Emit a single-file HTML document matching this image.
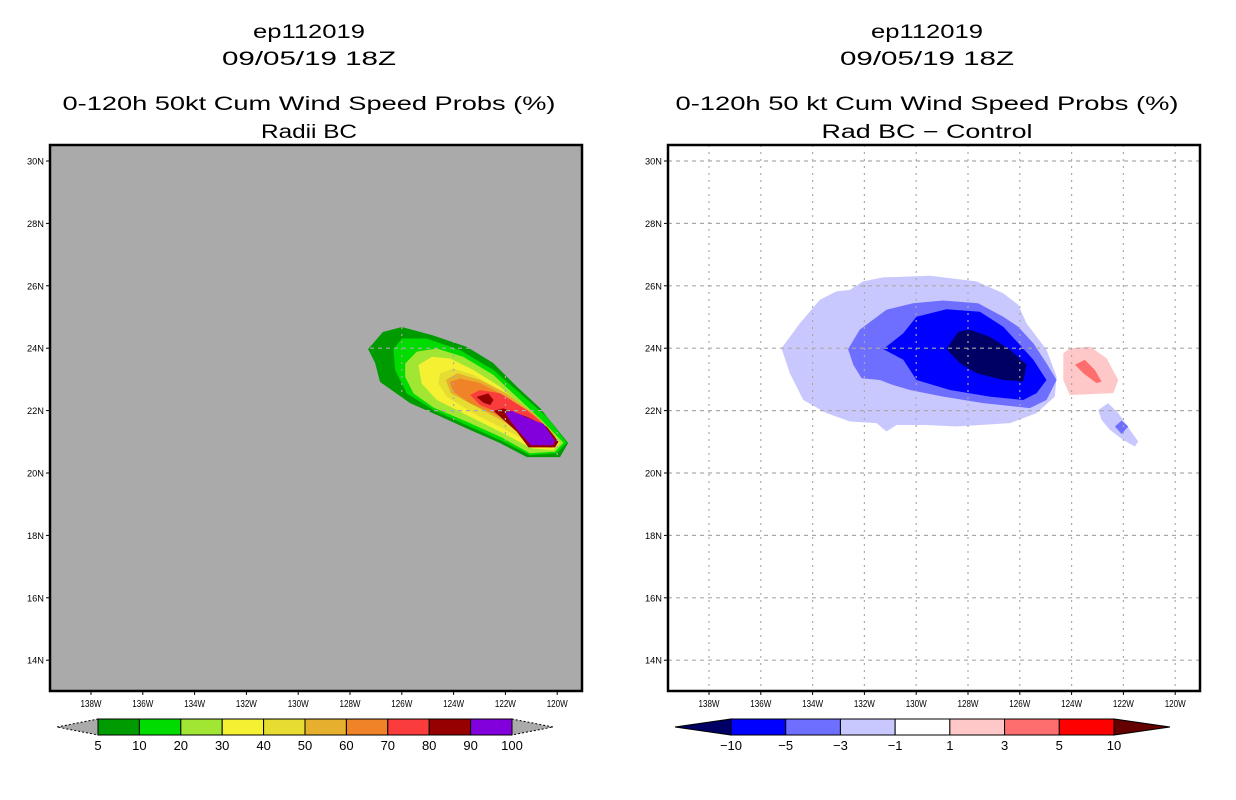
<!DOCTYPE html>
<html><head><meta charset="utf-8"><style>
html,body{margin:0;padding:0;background:#fff;}
svg{display:block;font-family:"Liberation Sans",sans-serif;}
</style></head><body>
<svg id="root" width="1236" height="800" viewBox="0 0 1236 800" xmlns="http://www.w3.org/2000/svg"></svg>
<script>
// ---- data ----
const lonTicks=[138,136,134,132,130,128,126,124,122,120];
const latTicks=[30,28,26,24,22,20,18,16,14];
// Left panel: cumulative probability contours (lonW, lat)
const probLevels=[5,10,20,30,40,50,60,70,80,90,100];
const probColors=['#009b00','#00dc00','#a0e632','#f5f032','#e6dc32','#e6af2d','#f08228','#fa3c3c','#960000','#8200dc'];
const prob5=[[127.3,23.97],[126.73,24.52],[126.0,24.68],[124.83,24.42],[123.48,24.04],[122.48,23.53],[121.55,22.76],[120.66,22.08],[119.58,20.96],[119.89,20.51],[121.17,20.51],[122.21,20.96],[123.37,21.38],[124.64,21.86],[125.68,22.24],[126.84,22.92],[127.03,23.53]];
const prob10=[[126.32,23.96],[126.0,24.31],[125.04,24.31],[123.75,23.94],[122.46,23.30],[121.43,22.55],[120.40,21.80],[119.63,20.97],[120.02,20.63],[121.05,20.57],[122.20,21.05],[123.49,21.53],[124.78,22.02],[125.81,22.55],[126.26,23.30]];
const prob20=[[125.87,23.51],[125.42,23.89],[124.65,23.99],[123.62,23.72],[122.46,23.14],[121.56,22.44],[120.60,21.69],[119.76,20.97],[120.08,20.68],[121.05,20.63],[122.20,21.16],[123.49,21.64],[124.78,22.10],[125.55,22.55],[125.87,23.08]];
const prob30=[[125.36,23.46],[124.84,23.72],[124.14,23.67],[123.23,23.30],[122.20,22.76],[121.30,22.12],[120.40,21.48],[119.89,20.97],[120.15,20.73],[120.98,20.79],[122.08,21.27],[123.36,21.80],[124.65,22.34],[125.23,22.87]];
const prob40=[[124.52,23.19],[124.01,23.35],[123.23,23.14],[122.20,22.66],[121.17,22.02],[120.27,21.37],[119.95,20.97],[120.21,20.79],[120.92,20.89],[121.95,21.37],[123.23,21.91],[124.26,22.44],[124.59,22.87]];
const prob50=[[124.3,22.98],[123.85,23.2],[122.98,22.98],[121.95,22.55],[120.92,21.91],[120.15,21.27],[120.02,20.95],[120.34,20.84],[120.92,21.00],[121.95,21.59],[123.11,22.12],[124.1,22.55]];
const prob60=[[124.14,22.92],[123.75,23.03],[122.98,22.88],[121.95,22.44],[120.79,21.80],[120.08,21.16],[120.08,20.93],[120.40,20.86],[121.05,21.11],[122.20,21.80],[123.36,22.23],[124.01,22.60]];
const prob70=[[123.36,22.50],[122.98,22.66],[122.20,22.55],[121.17,22.02],[120.40,21.48],[120.08,21.05],[120.47,20.86],[121.11,21.11],[122.33,21.96],[122.98,22.18]];
const prob80a=[[123.11,22.44],[122.66,22.55],[122.46,22.34],[122.59,22.18],[122.85,22.25]];
const prob80b=[[122.46,21.99],[122.08,22.07],[121.17,21.80],[120.40,21.48],[119.95,21.00],[120.08,20.82],[121.11,20.82],[121.56,21.32]];
const prob90=[[122.01,21.93],[121.75,21.99],[120.92,21.69],[120.53,21.57],[120.08,21.03],[120.17,20.89],[121.02,20.89],[121.50,21.35],[121.88,21.75]];
// Right panel: difference contours
const diffLevels=[-10,-5,-3,-1,1,3,5,10];
const diffColors=['#000064','#0000ff','#6e6eff','#c8c8ff','#ffffff','#ffc8c8','#ff6e6e','#ff0000','#640000'];
const diffNeg1=[[135.20,24.00],[134.49,24.80],[133.72,25.55],[133.08,25.82],[132.56,25.87],[132.05,26.14],[131.27,26.27],[129.47,26.32],[127.67,26.14],[126.64,25.76],[126.06,25.39],[125.74,24.80],[124.97,23.95],[124.58,23.09],[124.65,22.45],[125.35,21.92],[126.38,21.60],[128.44,21.49],[129.60,21.54],[130.76,21.54],[131.15,21.33],[131.53,21.60],[132.56,21.65],[133.46,21.92],[134.36,22.34],[134.88,23.20]];
const diffNeg3=[[132.63,23.97],[132.18,24.59],[131.15,25.23],[130.12,25.44],[128.96,25.53],[127.61,25.44],[126.64,25.01],[126.06,24.69],[125.48,24.16],[124.97,23.52],[124.58,22.98],[124.97,22.34],[125.61,22.08],[127.41,22.24],[128.96,22.45],[130.24,22.66],[130.89,22.82],[131.40,22.98],[132.11,23.04],[132.43,23.47]];
const diffNeg5=[[131.27,23.97],[130.50,24.48],[129.99,25.01],[128.83,25.25],[127.54,25.17],[126.64,24.69],[126.00,24.11],[125.48,23.63],[124.97,22.98],[125.35,22.56],[125.87,22.34],[127.16,22.45],[128.70,22.66],[129.99,22.98],[130.24,23.30],[130.50,23.63]];
const diffNeg10=[[128.83,23.97],[128.38,24.53],[127.93,24.59],[127.16,24.37],[126.38,23.95],[125.74,23.47],[125.87,22.93],[126.64,22.98],[127.67,23.20],[128.31,23.52]];
const diffPos1=[[124.32,23.84],[124.07,24.00],[123.29,24.05],[122.65,23.68],[122.20,22.98],[122.39,22.56],[124.07,22.50],[124.32,22.98]];
const diffPos3=[[123.87,23.47],[123.49,23.63],[123.10,23.30],[122.84,22.93],[123.04,22.88],[123.55,23.20]];
const diffNeg1b=[[122.97,22.02],[122.59,22.24],[122.20,21.92],[121.75,21.38],[121.43,21.01],[121.56,20.85],[122.01,21.06],[122.52,21.38],[122.84,21.70]];
const diffNeg3b=[[122.33,21.49],[122.07,21.68],[121.81,21.49],[122.07,21.25]];

// ---- rendering ----
const NS='http://www.w3.org/2000/svg';
const root=document.getElementById('root');
function mk(tag,attrs,parent){const e=document.createElementNS(NS,tag);for(const k in attrs)e.setAttribute(k,attrs[k]);(parent||root).appendChild(e);return e;}
function txt(x,y,s,size,anchor,len,parent){const t=mk('text',{x:x,y:y,'font-size':size,'text-anchor':anchor||'middle',fill:'#000'},parent);if(len){t.setAttribute('textLength',len);t.setAttribute('lengthAdjust','spacingAndGlyphs');}t.textContent=s;return t;}
function makePanel(x0,bg){
  const left=x0, top=145, w=532, h=546;
  const xs=lon=>x0+41+(138-lon)*25.9;
  const ys=lat=>161+(30-lat)*31.2;
  return {left,top,w,h,xs,ys,bg};
}
const P1=makePanel(50,'#aaaaaa');
const P2=makePanel(668,'#ffffff');

function drawPanel(P,name,polys,gridColor){
  const g=mk('g',{});
  
  
  const bg=mk('rect',{x:P.left,y:P.top,width:P.w,height:P.h,fill:P.bg},g);
  
  
  const clip=mk('clipPath',{id:name+'-clip'},g);
  mk('rect',{x:P.left,y:P.top,width:P.w,height:P.h},clip);
  const cg=mk('g',{'clip-path':'url(#'+name+'-clip)'},g);
  polys.forEach(([pts,col,nm])=>{
    const p=mk('polygon',{points:pts.map(d=>P.xs(d[0]).toFixed(1)+','+P.ys(d[1]).toFixed(1)).join(' '),fill:col},cg);
    
    
  });
  lonTicks.forEach(l=>{const ln=mk('line',{x1:P.xs(l),x2:P.xs(l),y1:P.top,y2:P.top+P.h,stroke:gridColor,'stroke-width':1.2,'stroke-dasharray':'2 5'},cg);
    });
  latTicks.forEach(l=>{const ln=mk('line',{x1:P.left,x2:P.left+P.w,y1:P.ys(l),y2:P.ys(l),stroke:gridColor,'stroke-width':1.2,'stroke-dasharray':'4 4'},cg);
    });
  const fr=mk('rect',{x:P.left,y:P.top,width:P.w,height:P.h,fill:'none',stroke:'#000','stroke-width':2.5},g);
  
  
  latTicks.forEach(l=>{
    mk('line',{x1:P.left-4,x2:P.left,y1:P.ys(l),y2:P.ys(l),stroke:'#000','stroke-width':1},g);
    const t=txt(P.left-6,P.ys(l)+3.5,l+'N',9.5,'end',17,g);
    
    
  });
  lonTicks.forEach(l=>{
    mk('line',{x1:P.xs(l),x2:P.xs(l),y1:P.top+P.h,y2:P.top+P.h+4,stroke:'#000','stroke-width':1},g);
    const t=txt(P.xs(l),P.top+P.h+16,l+'W',10,'middle',21,g);
    
    
  });
}
drawPanel(P1,'left-map',[
  [prob5,probColors[0],'contour-5'],[prob10,probColors[1],'contour-10'],[prob20,probColors[2],'contour-20'],
  [prob30,probColors[3],'contour-30'],[prob40,probColors[4],'contour-40'],[prob50,probColors[5],'contour-50'],
  [prob60,probColors[6],'contour-60'],[prob70,probColors[7],'contour-70'],[prob80a,probColors[8],'contour-80a'],
  [prob80b,probColors[8],'contour-80b'],[prob90,probColors[9],'contour-90']],'#aaaaaa');
drawPanel(P2,'right-map',[
  [diffNeg1,diffColors[3],'contour-neg1'],[diffNeg3,diffColors[2],'contour-neg3'],[diffNeg5,diffColors[1],'contour-neg5'],
  [diffNeg10,diffColors[0],'contour-neg10'],[diffPos1,diffColors[5],'contour-pos1'],[diffPos3,diffColors[6],'contour-pos3'],
  [diffNeg1b,diffColors[3],'contour-neg1-small'],[diffNeg3b,diffColors[2],'contour-neg3-small']],'#aaaaaa');

function titles(cx,lines,name){
  const ys=[38,65,110,138];
  lines.forEach((s,i)=>{const t=txt(cx,ys[i],s[0],19,'middle',s[1]);
    
    });
}
titles(309,[['ep112019',112],['09/05/19 18Z',174],['0-120h 50kt Cum Wind Speed Probs (%)',493],['Radii BC',96]],'left');
titles(927,[['ep112019',112],['09/05/19 18Z',174],['0-120h 50 kt Cum Wind Speed Probs (%)',503],['Rad BC \u2212 Control',211]],'right');

function colorbar(x0,x1,tipL,tipR,labels,colors,leftTip,rightTip,name){
  const g=mk('g',{});
  
  
  const y0=719,y1=735,ym=727;
  const n=colors.length;const bw=(x1-x0)/n;
  const tl=mk('polygon',{points:`${tipL},${ym} ${x0},${y0} ${x0},${y1}`,fill:leftTip,stroke:'#000','stroke-width':1,'stroke-dasharray':leftTip==='#aaaaaa'?'2 2':''},g);
  
  const tr=mk('polygon',{points:`${tipR},${ym} ${x1},${y0} ${x1},${y1}`,fill:rightTip,stroke:'#000','stroke-width':1,'stroke-dasharray':rightTip==='#aaaaaa'?'2 2':''},g);
  
  colors.forEach((c,i)=>{const r=mk('rect',{x:x0+i*bw,y:y0,width:bw,height:y1-y0,fill:c,stroke:'#000','stroke-width':1},g);
    });
  labels.forEach((l,i)=>{const t=txt(x0+i*bw,750,String(l).replace('-','\u2212'),13,'middle',null,g);
    });
}
colorbar(98,512,57,553,probLevels,probColors,'#aaaaaa','#aaaaaa','prob-colorbar');
colorbar(731,1114,675,1170,diffLevels,diffColors.slice(1,8),diffColors[0],diffColors[8],'diff-colorbar');
</script>
</body></html>
